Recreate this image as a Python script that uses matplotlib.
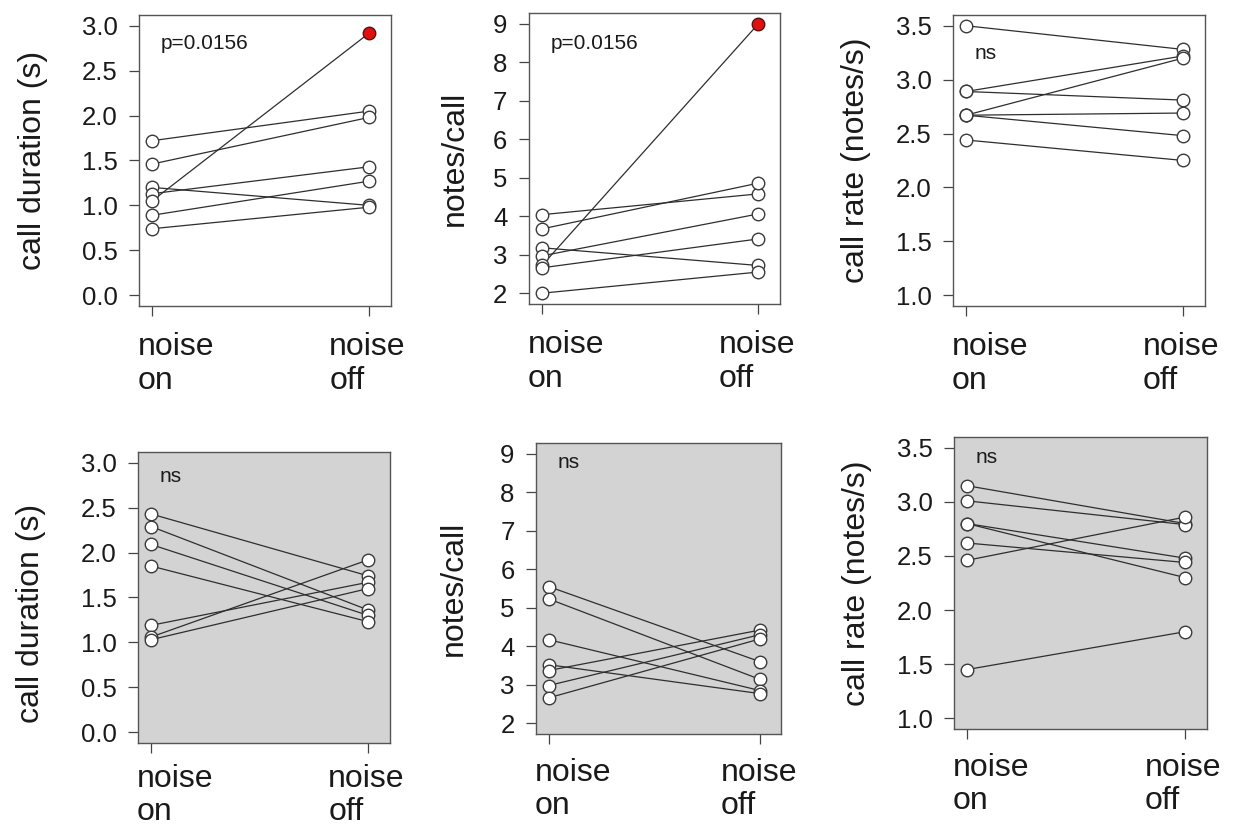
import matplotlib
matplotlib.use("Agg")
import matplotlib.pyplot as plt

plt.rcParams["font.family"] = ["Liberation Sans", "DejaVu Sans"]

# top row: noise on vs noise off (white panels)
dur_on_top = [1.72, 1.46, 1.20, 1.13, 1.05, 0.89, 0.74]
dur_off_top = [2.05, 1.98, 1.00, 1.43, 2.92, 1.27, 0.98]
notes_on_top = [4.04, 3.67, 3.18, 2.97, 2.72, 2.66, 2.00]
notes_off_top = [4.58, 4.86, 2.72, 4.06, 9.00, 3.41, 2.55]
rate_on_top = [3.50, 2.89, 2.89, 2.67, 2.67, 2.67, 2.44]
rate_off_top = [3.28, 3.22, 2.81, 3.20, 2.69, 2.48, 2.25]

# bottom row (grey panels)
dur_on_bot = [2.43, 2.29, 2.09, 1.85, 1.19, 1.06, 1.03]
dur_off_bot = [1.74, 1.36, 1.30, 1.23, 1.67, 1.92, 1.60]
notes_on_bot = [5.55, 5.23, 4.17, 3.52, 3.37, 2.98, 2.66]
notes_off_bot = [3.60, 3.14, 2.85, 2.77, 4.42, 4.30, 4.19]
rate_on_bot = [3.15, 3.01, 2.80, 2.80, 2.62, 2.46, 1.45]
rate_off_bot = [2.80, 2.79, 2.48, 2.30, 2.44, 2.86, 1.80]

conditions = ["noise\non", "noise\noff"]
dur_ticks = [0.0, 0.5, 1.0, 1.5, 2.0, 2.5, 3.0]
notes_ticks = [2, 3, 4, 5, 6, 7, 8, 9]
rate_ticks = [1.0, 1.5, 2.0, 2.5, 3.0, 3.5]

EDGE = "#3a3a3a"


def draw_panel(ax, on, off, ticks, ylabel, note, note_y, grey=False, red=None,
               label_x=-0.36, label_y=0.5, fmt="{:.1f}", xlab_offset=-19):
    for i, (a, b) in enumerate(zip(on, off)):
        ax.plot([1, 2], [a, b], color="#2e2e2e", lw=0.9, zorder=2)
        ax.plot([1], [a], "o", ms=9, mfc="white", mec=EDGE, mew=1.0, zorder=3)
        if i == red:
            ax.plot([2], [b], "o", ms=9, mfc="#e01010", mec="#5a1010", mew=1.0, zorder=3)
        else:
            ax.plot([2], [b], "o", ms=9, mfc="white", mec=EDGE, mew=1.0, zorder=3)

    span = ticks[-1] - ticks[0]
    ax.set_ylim(ticks[0] - 0.04 * span, ticks[-1] + 0.04 * span)
    ax.set_xlim(0.94, 2.10)
    ax.set_yticks(ticks)
    ax.set_yticklabels([fmt.format(t) for t in ticks])
    ax.set_xticks([1, 2])
    ax.set_xticklabels(["", ""])
    ax.tick_params(axis="both", direction="out", length=7, width=0.9,
                   color="#444444", labelsize=18.5, labelcolor="#1a1a1a", pad=8.5)
    for sp in ax.spines.values():
        sp.set_color("#555555")
        sp.set_linewidth(1.0)
    if grey:
        ax.set_facecolor("#d3d3d3")

    ax.set_ylabel(ylabel, fontsize=23, color="#1a1a1a")
    ax.yaxis.set_label_coords(label_x, label_y)

    ax.text(1.04, note_y, note, fontsize=15, color="#1a1a1a", ha="left", va="center")

    for x, lab, dx in zip([1, 2], conditions, [-0.065, -0.185]):
        ax.annotate(lab, xy=(x + dx, 0), xycoords=("data", "axes fraction"),
                    xytext=(0, xlab_offset), textcoords="offset points",
                    ha="left", va="top", fontsize=23, color="#1a1a1a",
                    linespacing=1.15)


fig = plt.figure(figsize=(12.36, 8.31), dpi=100)

ax1 = fig.add_axes([0.1125, 0.6318, 0.2039, 0.3502])
ax2 = fig.add_axes([0.4280, 0.6342, 0.2031, 0.3502])
ax3 = fig.add_axes([0.7710, 0.6318, 0.2039, 0.3502])
ax4 = fig.add_axes([0.1117, 0.1059, 0.2039, 0.3502])
ax5 = fig.add_axes([0.4337, 0.1167, 0.1982, 0.3502])
ax6 = fig.add_axes([0.7718, 0.1227, 0.2047, 0.3514])

draw_panel(ax1, dur_on_top, dur_off_top, dur_ticks, "call duration (s)",
           "p=0.0156", 2.80, red=4, label_x=-0.36)
draw_panel(ax2, notes_on_top, notes_off_top, notes_ticks, "notes/call",
           "p=0.0156", 8.49, red=4, label_x=-0.235, fmt="{:d}")
draw_panel(ax3, rate_on_top, rate_off_top, rate_ticks, "call rate (notes/s)",
           "ns", 3.24, label_x=-0.325)
draw_panel(ax4, dur_on_bot, dur_off_bot, dur_ticks, "call duration (s)",
           "ns", 2.85, grey=True, label_x=-0.365, label_y=0.445, xlab_offset=-15)
draw_panel(ax5, notes_on_bot, notes_off_bot, notes_ticks, "notes/call",
           "ns", 8.77, grey=True, label_x=-0.275, fmt="{:d}", xlab_offset=-17)
draw_panel(ax6, rate_on_bot, rate_off_bot, rate_ticks, "call rate (notes/s)",
           "ns", 3.41, grey=True, label_x=-0.325, xlab_offset=-17)

fig.savefig("out.png", dpi=100)
